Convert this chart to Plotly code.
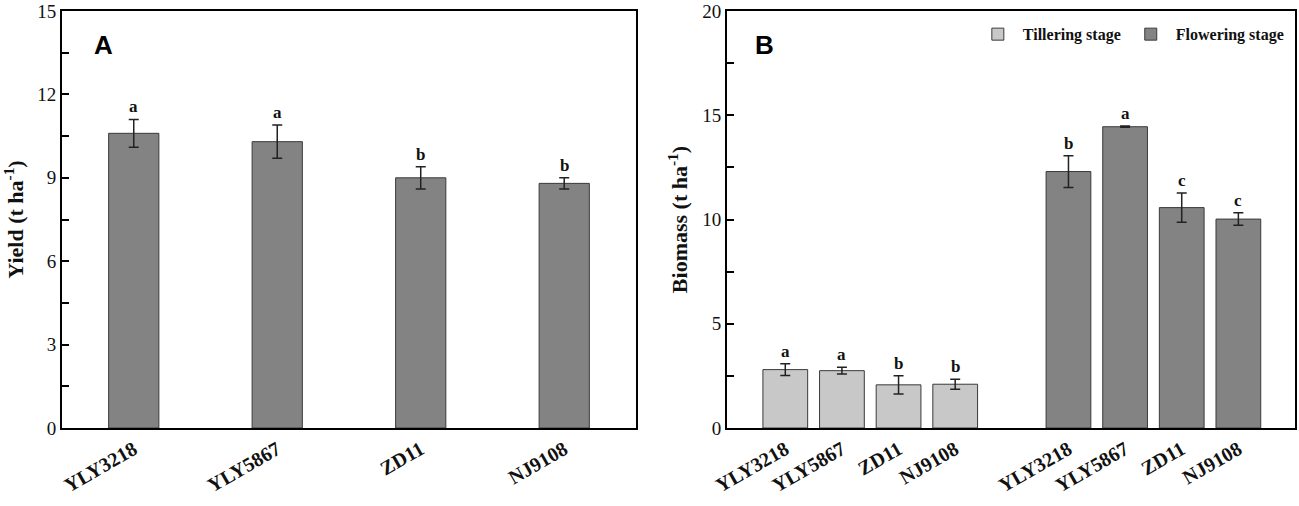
import plotly.graph_objects as go

# Panel A: yield
cultivars = ['YLY3218', 'YLY5867', 'ZD11', 'NJ9108']
yield_mean = [10.6, 10.3, 9.0, 8.8]
yield_err = [0.5, 0.6, 0.4, 0.2]
yield_sig = ['a', 'a', 'b', 'b']

# Panel B: biomass
till_mean = [2.8, 2.75, 2.07, 2.1]
till_err = [0.28, 0.16, 0.44, 0.24]
till_sig = ['a', 'a', 'b', 'b']
flow_mean = [12.3, 14.45, 10.57, 10.02]
flow_err = [0.76, 0.03, 0.7, 0.3]
flow_sig = ['b', 'a', 'c', 'c']

serif = 'Liberation Serif'
edge = dict(color='#3a3a3a', width=1)
errstyle = dict(type='data', thickness=1.5, width=5, color='#222222')

pos_a = list(range(len(cultivars)))
pos_till = list(range(len(cultivars)))
pos_flow = [p + len(cultivars) + 1 for p in pos_till]

fig = go.Figure()

fig.add_trace(go.Bar(
    x=pos_a, y=yield_mean, width=0.35,
    error_y=dict(array=yield_err, **errstyle),
    marker=dict(color='#838383', line=edge),
    showlegend=False, xaxis='x', yaxis='y'))

fig.add_trace(go.Bar(
    x=pos_till, y=till_mean, width=0.79, name='<b>Tillering stage</b>',
    error_y=dict(array=till_err, **errstyle),
    marker=dict(color='#c8c8c8', line=edge),
    xaxis='x2', yaxis='y2'))

fig.add_trace(go.Bar(
    x=pos_flow, y=flow_mean, width=0.79, name='<b>Flowering stage</b>',
    error_y=dict(array=flow_err, **errstyle),
    marker=dict(color='#838383', line=edge),
    xaxis='x2', yaxis='y2'))

ann = []
sig_font = dict(family=serif, size=17, color='#111111')
for x, m, e, s in zip(pos_a, yield_mean, yield_err, yield_sig):
    ann.append(dict(x=x, y=m + e, text='<b>%s</b>' % s, xref='x', yref='y',
                    showarrow=False, yanchor='bottom', yshift=1, font=sig_font))
for x, m, e, s in zip(pos_till + pos_flow, till_mean + flow_mean,
                      till_err + flow_err, till_sig + flow_sig):
    ann.append(dict(x=x, y=m + e, text='<b>%s</b>' % s, xref='x2', yref='y2',
                    showarrow=False, yanchor='bottom', yshift=1, font=sig_font))

# panel letters
ann.append(dict(x=0.024, y=0.96, xref='paper', yref='paper', text='<b>A</b>',
                showarrow=False, font=dict(family='Liberation Sans', size=26, color='black')))
ann.append(dict(x=0.570, y=0.96, xref='paper', yref='paper', text='<b>B</b>',
                showarrow=False, font=dict(family='Liberation Sans', size=26, color='black')))

tickfont = dict(family=serif, size=19, color='#111111')
xtickfont = dict(family=serif, size=20, color='#111111')
titlefont = dict(family=serif, size=22, color='#111111')

common_x = dict(showline=True, linecolor='black', linewidth=2, mirror=True,
                ticks='', showgrid=False, zeroline=False, tickangle=-30,
                tickfont=xtickfont, automargin=False)
common_y = dict(showline=True, linecolor='black', linewidth=2, mirror=True,
                ticks='inside', ticklen=7, tickwidth=2, tickcolor='black',
                showgrid=False, zeroline=False, tickfont=tickfont,
                tickprefix='<b>', ticksuffix='</b>', automargin=False,
                ticklabeloverflow='allow')

fig.update_layout(
    width=1299, height=506,
    margin=dict(l=62, r=4, t=11, b=78),
    plot_bgcolor='white', paper_bgcolor='white',
    barmode='overlay',
    font=dict(family=serif),
    xaxis=dict(domain=[0, 0.4655], range=[-0.5, 3.5],
               tickvals=pos_a, ticktext=['<b>%s</b>' % c for c in cultivars],
               anchor='y', **common_x),
    yaxis=dict(domain=[0, 1], range=[0, 15], tickvals=[0, 3, 6, 9, 12, 15],
               minor=dict(ticks='inside', ticklen=7, tickwidth=2, dtick=1.5, tickcolor='black'),
               title=dict(text='<b>Yield (t ha<sup>-1</sup>)</b>', font=titlefont, standoff=8),
               anchor='x', **common_y),
    xaxis2=dict(domain=[0.5393, 1], range=[-1.03, 9.0],
                tickvals=pos_till + pos_flow,
                ticktext=['<b>%s</b>' % c for c in cultivars + cultivars],
                anchor='y2', **common_x),
    yaxis2=dict(domain=[0, 1], range=[0, 20], tickvals=[0, 5, 10, 15, 20],
                minor=dict(ticks='inside', ticklen=7, tickwidth=2, dtick=2.5, tickcolor='black'),
                title=dict(text='<b>Biomass (t ha<sup>-1</sup>)</b>', font=titlefont, standoff=8),
                anchor='x2', **common_y),
    legend=dict(orientation='h', x=0.995, xanchor='right', y=0.985, yanchor='top',
                font=dict(family=serif, size=16, color='#111111'),
                bgcolor='rgba(0,0,0,0)', itemwidth=40, traceorder='normal'),
    annotations=ann,
)

fig.write_html('out.html', config={'displayModeBar': False},
               post_script="document.body.style.margin='0';")
